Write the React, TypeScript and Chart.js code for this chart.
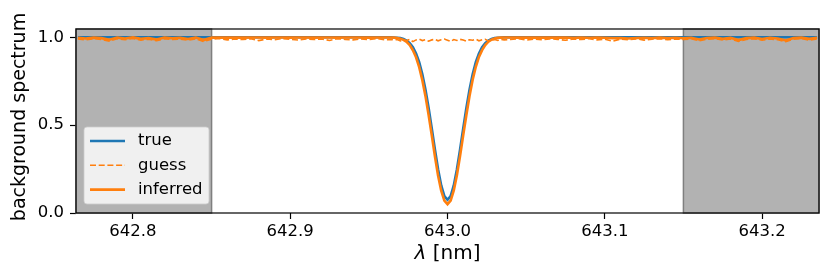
import React, { useEffect, useRef } from "react";
import { Chart, registerables } from "chart.js";
Chart.register(...registerables);

// ---- data ----
const wavelength = [
  642.765, 642.770, 642.775, 642.780, 642.785, 642.790, 642.795, 642.800, 642.805, 642.810,
  642.815, 642.820, 642.825, 642.830, 642.835, 642.840, 642.845, 642.850, 642.855, 642.860,
  642.865, 642.870, 642.875, 642.880, 642.885, 642.890, 642.895, 642.900, 642.905, 642.910,
  642.915, 642.920, 642.925, 642.930, 642.935, 642.940, 642.945, 642.950, 642.955, 642.960,
  642.964, 642.966, 642.968, 642.970, 642.972, 642.974, 642.976, 642.978, 642.980, 642.982,
  642.984, 642.986, 642.988, 642.990, 642.992, 642.994, 642.996, 642.998, 643.000, 643.002,
  643.004, 643.006, 643.008, 643.010, 643.012, 643.014, 643.016, 643.018, 643.020, 643.022,
  643.024, 643.026, 643.028, 643.030, 643.032, 643.034, 643.036,
  643.040, 643.045, 643.050, 643.055, 643.060, 643.065, 643.070, 643.075, 643.080, 643.085,
  643.090, 643.095, 643.100, 643.105, 643.110, 643.115, 643.120, 643.125, 643.130, 643.135,
  643.140, 643.145, 643.150, 643.155, 643.160, 643.165, 643.170, 643.175, 643.180, 643.185,
  643.190, 643.195, 643.200, 643.205, 643.210, 643.215, 643.220, 643.225, 643.230, 643.235,
];

const trueSpectrum = [
  1.000, 1.000, 1.000, 1.000, 1.000, 1.000, 1.000, 1.000, 1.000, 1.000,
  1.000, 1.000, 1.000, 1.000, 1.000, 1.000, 1.000, 1.000, 1.000, 1.000,
  1.000, 1.000, 1.000, 1.000, 1.000, 1.000, 1.000, 1.000, 1.000, 1.000,
  1.000, 1.000, 1.000, 1.000, 1.000, 1.000, 1.000, 1.000, 1.000, 1.000,
  1.000, 0.999, 0.9975, 0.995, 0.990, 0.981, 0.967, 0.944, 0.908, 0.858,
  0.789, 0.702, 0.598, 0.481, 0.361, 0.249, 0.157, 0.096, 0.075, 0.096,
  0.157, 0.249, 0.361, 0.481, 0.598, 0.702, 0.789, 0.858, 0.908, 0.944,
  0.967, 0.981, 0.990, 0.995, 0.9975, 0.999, 1.000,
  1.000, 1.000, 1.000, 1.000, 1.000, 1.000, 1.000, 1.000, 1.000, 1.000,
  1.000, 1.000, 1.000, 1.000, 1.000, 1.000, 1.000, 1.000, 1.000, 1.000,
  1.000, 1.000, 1.000, 1.000, 1.000, 1.000, 1.000, 1.000, 1.000, 1.000,
  1.000, 1.000, 1.000, 1.000, 1.000, 1.000, 1.000, 1.000, 1.000, 1.000,
];

const guessSpectrum = [
  0.990, 0.985, 0.992, 0.988, 0.978, 0.991, 0.986, 0.993, 0.984, 0.989,
  0.980, 0.992, 0.987, 0.990, 0.983, 0.991, 0.976, 0.989, 0.993, 0.985,
  0.990, 0.987, 0.992, 0.981, 0.990, 0.986, 0.993, 0.988, 0.984, 0.991,
  0.987, 0.990, 0.982, 0.992, 0.988, 0.985, 0.991, 0.987, 0.993, 0.986,
  0.988, 0.984, 0.987, 0.979, 0.986, 0.982, 0.988, 0.975, 0.985, 0.989,
  0.981, 0.986, 0.978, 0.985, 0.988, 0.980, 0.986, 0.990, 0.983, 0.976,
  0.987, 0.982, 0.988, 0.984, 0.977, 0.986, 0.983, 0.989, 0.980, 0.986,
  0.988, 0.979, 0.985, 0.987, 0.982, 0.988, 0.985,
  0.987, 0.992, 0.984, 0.990, 0.986, 0.991, 0.988, 0.983, 0.990, 0.987,
  0.992, 0.985, 0.989, 0.978, 0.990, 0.986, 0.991, 0.984, 0.989, 0.992,
  0.986, 0.990, 0.987, 0.991, 0.980, 0.989, 0.992, 0.985, 0.990, 0.977,
  0.988, 0.991, 0.983, 0.990, 0.986, 0.975, 0.989, 0.992, 0.984, 0.990,
];

const inferredSpectrum = [
  0.997, 0.993, 0.998, 0.995, 0.986, 0.998, 0.993, 0.999, 0.991, 0.996,
  0.987, 0.998, 0.994, 0.997, 0.990, 0.998, 0.984, 0.998, 0.999, 0.998,
  0.999, 0.998, 0.999, 0.999, 0.998, 0.999, 0.999, 0.998, 0.999, 0.999,
  0.998, 0.999, 0.999, 0.998, 0.999, 0.999, 0.999, 0.998, 0.999, 0.999,
  0.999, 0.998, 0.996, 0.992, 0.985, 0.974, 0.955, 0.926, 0.886, 0.830,
  0.756, 0.665, 0.557, 0.442, 0.323, 0.214, 0.127, 0.070, 0.050, 0.071,
  0.128, 0.216, 0.325, 0.443, 0.558, 0.666, 0.758, 0.832, 0.888, 0.927,
  0.956, 0.975, 0.986, 0.993, 0.997, 0.998, 0.999,
  0.999, 0.998, 0.999, 0.998, 0.999, 0.998, 0.999, 0.998, 0.997, 0.998,
  0.997, 0.998, 0.997, 0.995, 0.996, 0.993, 0.996, 0.997, 0.996, 0.998,
  0.996, 0.997, 0.994, 0.997, 0.987, 0.996, 0.998, 0.991, 0.997, 0.984,
  0.995, 0.998, 0.990, 0.997, 0.993, 0.982, 0.996, 0.998, 0.991, 0.997,
];

const xTicks = [642.8, 642.9, 643.0, 643.1, 643.2];
const yTicks = [0.0, 0.5, 1.0];
const maskedLeft = [642.7638, 642.85];
const maskedRight = [643.15, 643.2362];
const legendLabels = ["true", "guess", "inferred"];

const X_MIN = 642.7638;
const X_MAX = 643.2362;
const Y_MIN = 0;
const Y_MAX = 1.047;

const BLUE = "#1f77b4";
const ORANGE = "#ff7f0e";
const FONT = "'DejaVu Sans', sans-serif";

export default function App() {
  const ref = useRef<HTMLCanvasElement>(null);

  useEffect(() => {
    document.body.style.margin = "0";
    const canvas = ref.current!;
    const toPts = (ys: number[]) => wavelength.map((x, i) => ({ x, y: ys[i] }));

    const shading = {
      id: "shading",
      beforeDatasetsDraw(chart: any) {
        const { ctx, chartArea: a, scales } = chart;
        const xs = scales.x;
        ctx.save();
        for (const [lo, hi] of [maskedLeft, maskedRight]) {
          const x0 = Math.max(a.left, xs.getPixelForValue(lo));
          const x1 = Math.min(a.right, xs.getPixelForValue(hi));
          ctx.fillStyle = "#b2b2b2";
          ctx.fillRect(x0, a.top, x1 - x0, a.bottom - a.top);
          ctx.strokeStyle = "#7f7f7f";
          ctx.lineWidth = 1.5;
          ctx.strokeRect(x0, a.top, x1 - x0, a.bottom - a.top);
        }
        ctx.restore();
      },
    };

    const decorations = {
      id: "decorations",
      afterDraw(chart: any) {
        const { ctx, chartArea: a } = chart;
        ctx.save();
        // frame
        ctx.strokeStyle = "#000";
        ctx.lineWidth = 1.2;
        ctx.strokeRect(a.left, a.top, a.right - a.left, a.bottom - a.top);

        // legend
        const bx = a.left + 8, by = a.top + 98, bw = 125, bh = 77, r = 3;
        ctx.beginPath();
        ctx.moveTo(bx + r, by);
        ctx.lineTo(bx + bw - r, by);
        ctx.quadraticCurveTo(bx + bw, by, bx + bw, by + r);
        ctx.lineTo(bx + bw, by + bh - r);
        ctx.quadraticCurveTo(bx + bw, by + bh, bx + bw - r, by + bh);
        ctx.lineTo(bx + r, by + bh);
        ctx.quadraticCurveTo(bx, by + bh, bx, by + bh - r);
        ctx.lineTo(bx, by + r);
        ctx.quadraticCurveTo(bx, by, bx + r, by);
        ctx.closePath();
        ctx.fillStyle = "rgba(255,255,255,0.8)";
        ctx.fill();
        ctx.strokeStyle = "rgba(204,204,204,0.8)";
        ctx.lineWidth = 1;
        ctx.stroke();

        const styles = [
          { color: BLUE, width: 2.6, dash: [] as number[] },
          { color: ORANGE, width: 1.6, dash: [6, 2.7] },
          { color: ORANGE, width: 2.6, dash: [] as number[] },
        ];
        ctx.font = `16.5px ${FONT}`;
        ctx.textBaseline = "middle";
        ctx.textAlign = "left";
        legendLabels.forEach((lab, i) => {
          const yy = by + 14 + i * 24.3;
          const s = styles[i];
          ctx.beginPath();
          ctx.setLineDash(s.dash);
          ctx.strokeStyle = s.color;
          ctx.lineWidth = s.width;
          ctx.moveTo(bx + 6, yy);
          ctx.lineTo(bx + 41, yy);
          ctx.stroke();
          ctx.setLineDash([]);
          ctx.fillStyle = "#000";
          ctx.fillText(lab, bx + 54, yy);
        });

        // axis titles
        ctx.fillStyle = "#000";
        ctx.textBaseline = "middle";
        const cx = (a.left + a.right) / 2;
        const lamFont = `italic 20px ${FONT}`;
        const restFont = `20px ${FONT}`;
        ctx.font = lamFont;
        const w1 = ctx.measureText("λ").width;
        ctx.font = restFont;
        const rest = " [nm]";
        const w2 = ctx.measureText(rest).width;
        const startX = cx - (w1 + w2) / 2;
        const ty = 254;
        ctx.font = lamFont;
        ctx.fillText("λ", startX, ty);
        ctx.font = restFont;
        ctx.fillText(rest, startX + w1, ty);

        ctx.translate(20, 117);
        ctx.rotate(-Math.PI / 2);
        ctx.font = `19px ${FONT}`;
        ctx.textAlign = "center";
        ctx.fillText("background spectrum", 0, 0);
        ctx.restore();
      },
    };

    const chart = new Chart(canvas, {
      type: "line",
      data: {
        datasets: [
          {
            label: "true",
            data: toPts(trueSpectrum),
            borderColor: BLUE,
            borderWidth: 2.6,
            pointRadius: 0,
            order: 3,
          },
          {
            label: "guess",
            data: toPts(guessSpectrum),
            borderColor: ORANGE,
            borderWidth: 1.6,
            borderDash: [6, 2.7],
            pointRadius: 0,
            order: 2,
          },
          {
            label: "inferred",
            data: toPts(inferredSpectrum),
            borderColor: ORANGE,
            borderWidth: 2.6,
            pointRadius: 0,
            order: 1,
          },
        ],
      },
      options: {
        responsive: false,
        animation: false,
        events: [],
        layout: { padding: { top: 29, right: 12, left: 0, bottom: 0 } },
        plugins: { legend: { display: false }, tooltip: { enabled: false } },
        scales: {
          x: {
            type: "linear",
            min: X_MIN,
            max: X_MAX,
            afterBuildTicks: (s: any) => {
              s.ticks = xTicks.map((v) => ({ value: v }));
            },
            afterFit: (s: any) => {
              s.height = 67;
            },
            grid: {
              drawOnChartArea: false,
              drawTicks: true,
              tickLength: 6,
              tickColor: "#000",
              tickWidth: 1.2,
            },
            border: { display: false },
            ticks: {
              color: "#000",
              font: { family: FONT, size: 16.5 },
              padding: 3,
              maxRotation: 0,
              autoSkip: false,
              callback: (v: any) => Number(v).toFixed(1),
            },
          },
          y: {
            type: "linear",
            min: Y_MIN,
            max: Y_MAX,
            afterBuildTicks: (s: any) => {
              s.ticks = yTicks.map((v) => ({ value: v }));
            },
            afterFit: (s: any) => {
              s.width = 76;
            },
            grid: {
              drawOnChartArea: false,
              drawTicks: true,
              tickLength: 6,
              tickColor: "#000",
              tickWidth: 1.2,
            },
            border: { display: false },
            ticks: {
              color: "#000",
              font: { family: FONT, size: 16.5 },
              padding: 6,
              autoSkip: false,
              callback: (v: any) => Number(v).toFixed(1),
            },
          },
        },
      },
      plugins: [shading, decorations],
    } as any);

    return () => chart.destroy();
  }, []);

  return (
    <div style={{ position: "absolute", left: 0, top: 0, width: 831, height: 280, background: "#fff" }}>
      <canvas ref={ref} width={831} height={280} />
    </div>
  );
}
